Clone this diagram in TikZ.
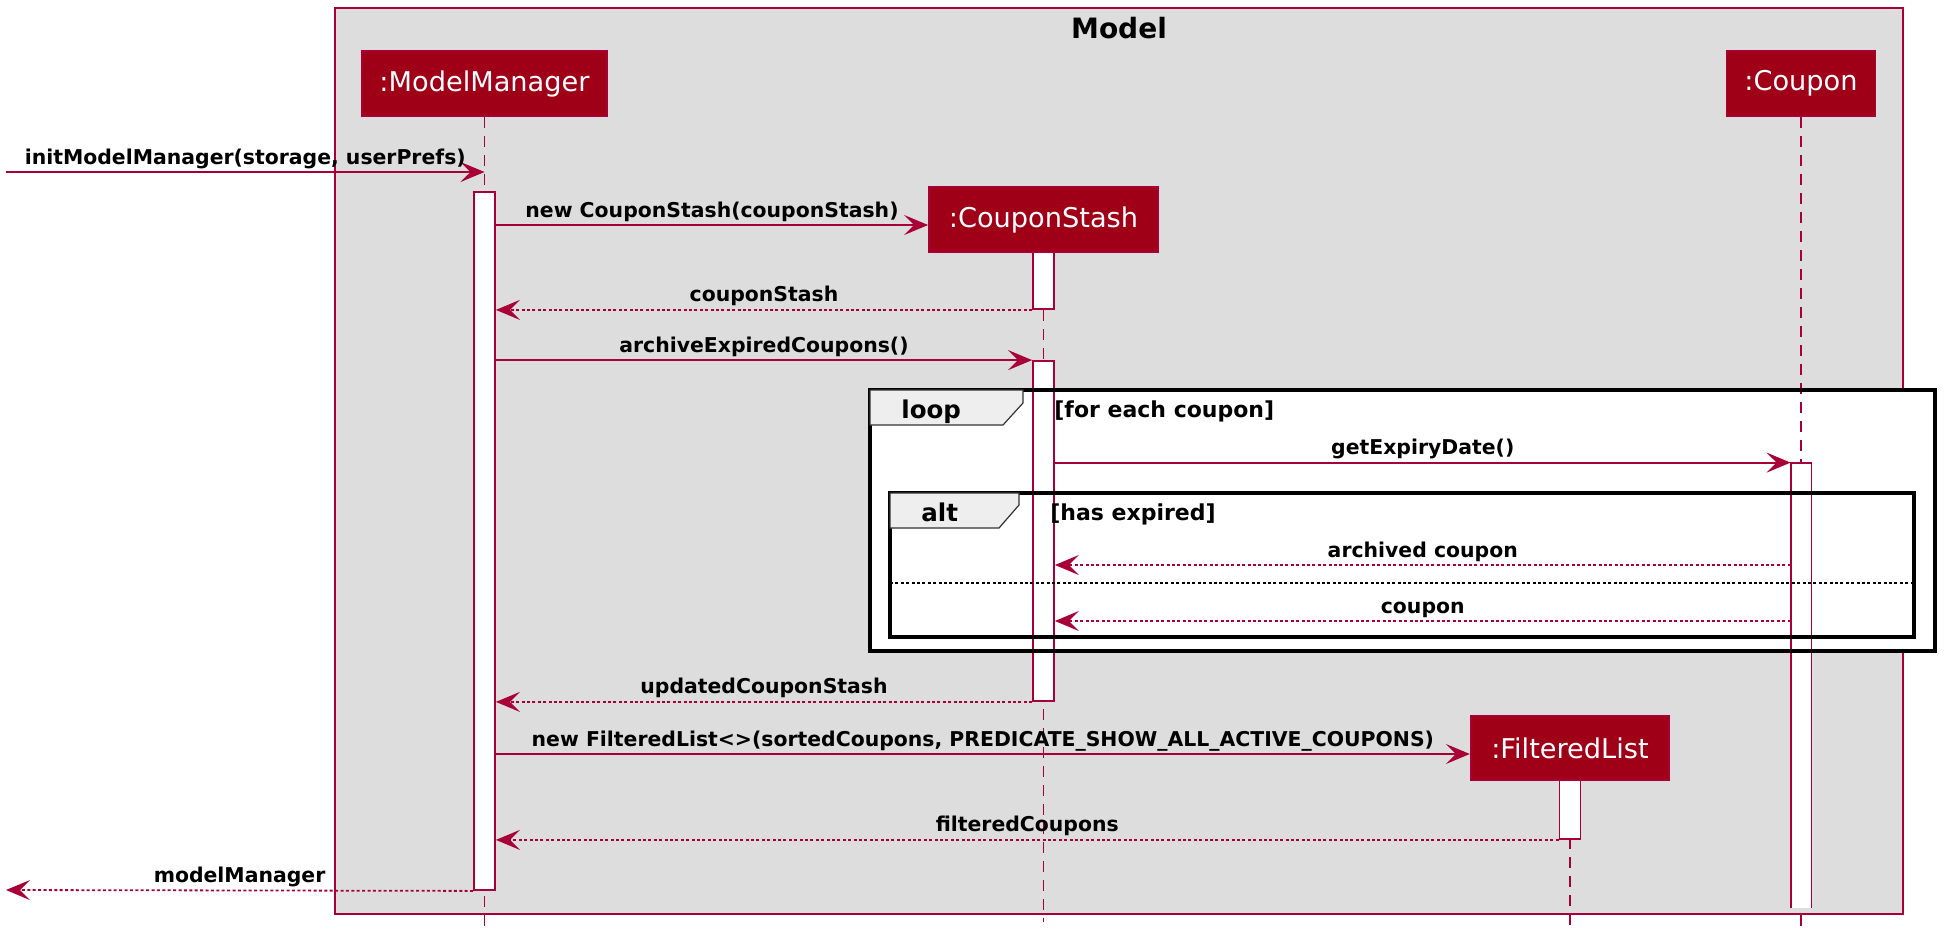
\documentclass[tikz,border=0pt]{standalone}
\usepackage{fontspec}
\setmainfont{DejaVu Sans}
\usetikzlibrary{arrows.meta}
\definecolor{umlred}{RGB}{168,0,54}
\definecolor{umlfill}{RGB}{160,0,23}
\definecolor{boxgray}{RGB}{221,221,221}
\definecolor{tabgray}{RGB}{238,238,238}
\tikzset{
  actor/.style={draw=umlred, fill=umlfill, line width=0.9pt, text=white, inner sep=0pt,
    minimum height=32.5pt, font=\fontsize{13.6}{16}\selectfont},
  bar/.style={draw=umlred, fill=white, line width=0.9pt, minimum width=10.5pt, inner sep=0pt},
  life/.style={umlred, line width=0.9pt, dash pattern=on 5.5pt off 4pt},
  msg/.style={umlred, line width=0.9pt, -{Stealth[length=12pt,width=10pt,inset=5pt]}},
  ret/.style={msg, dash pattern=on 1.5pt off 1.2pt},
  lbl/.style={midway, anchor=base, yshift=4pt, inner sep=0pt, text=black,
    font=\fontsize{10.2}{12}\selectfont\bfseries},
  frame/.style={draw=black, line width=1.6pt},
  tab/.style={draw=black!80, fill=tabgray, line width=0.6pt},
  kw/.style={anchor=base west, inner sep=0pt, font=\fontsize{12.25}{14}\selectfont\bfseries},
  guard/.style={anchor=base west, inner sep=0pt, font=\fontsize{11}{13}\selectfont\bfseries}
}
\begin{document}
\begin{tikzpicture}[x=0.5pt, y=-0.5pt]
  \useasboundingbox (0,0) rectangle (1954,948);
  % Model box
  \draw[draw=umlred, fill=boxgray, line width=0.9pt] (335,8) rectangle (1903,914);
  \node[anchor=base, inner sep=0pt, font=\fontsize{14}{16}\selectfont\bfseries] (model) at (1119,38) {Model};
  % white inside of the groups
  \fill[white] (870,390) rectangle (1935,651);

  % participants
  \node[actor, minimum width=122.5pt] (mm) at (484.5,83.5) {:ModelManager};
  \node[actor, minimum width=114.5pt] (cs) at (1043.5,219.5) {:CouponStash};
  \node[actor, minimum width=74.5pt] (cp) at (1801,83.5) {:Coupon};
  \node[actor, minimum width=99.25pt, minimum height=32pt] (fl) at (1570,748) {:FilteredList};

  % lifelines
  \coordinate (mmEnd) at (484.5,926);
  \coordinate (csEnd) at (1043.5,922);
  \coordinate (cpEnd) at (1801,926);
  \coordinate (flEnd) at (1570,926);
  \draw[life] (mm.south) -- (mmEnd);
  \draw[life] (cs.south) -- (csEnd);
  \draw[life] (cp.south) -- (cpEnd);
  \draw[life] (fl.south) -- (flEnd);

  % activations
  \node[bar, minimum height=349pt] (mmbar) at (484.5,541) {};
  \node[bar, minimum height=28.5pt] (csbarA) at (1043.5,280.5) {};
  \node[bar, minimum height=170pt] (csbarB) at (1043.5,531) {};
  \node[bar, minimum height=29.5pt] (flbar) at (1570,809.5) {};
  \node[fill=white, minimum width=10pt, minimum height=222.5pt, inner sep=0pt] (cpbar) at (1801,685.5) {};
  \draw[umlred, line width=0.9pt] (cpbar.south west) -- (cpbar.north west) -- (cpbar.north east) -- (cpbar.south east);

  % loop and alt
  \draw[frame] (870,390) rectangle (1935,651);
  \draw[tab] (870,390) -- (1023,390) -- (1023,403) -- (1003,425) -- (870,425) -- cycle;
  \node[kw] (loopkw) at (901,418) {loop};
  \node[guard] (loopgd) at (1054,417) {[for each coupon]};
  \draw[frame] (890,493) rectangle (1914,637);
  \draw[tab] (890,493) -- (1019,493) -- (1019,505) -- (999,528) -- (890,528) -- cycle;
  \node[kw] (altkw) at (921,521) {alt};
  \node[guard] (altgd) at (1050,520) {[has expired]};
  \draw[line width=0.9pt, dash pattern=on 1.5pt off 1.2pt] (890,583) -- (1914,583);

  % messages
  \coordinate (in) at (6,172);
  \coordinate (out) at (6,890);
  \draw[msg] (in) -- (mm.south |- in) node[lbl] {initModelManager(storage, userPrefs)};
  \draw[msg] (mmbar.east |- 0,225) -- (cs.west |- 0,225) node[lbl] {new CouponStash(couponStash)};
  \draw[ret] (csbarA.south west) -- (mmbar.east |- csbarA.south) node[lbl] {couponStash};
  \draw[msg] (mmbar.east |- csbarB.north) -- (csbarB.north west) node[lbl] {archiveExpiredCoupons()};
  \draw[msg] (csbarB.east |- cpbar.north) -- (cpbar.north west) node[lbl] {getExpiryDate()};
  \draw[ret] (cpbar.west |- 0,565) -- (csbarB.east |- 0,565) node[lbl] {archived coupon};
  \draw[ret] (cpbar.west |- 0,621) -- (csbarB.east |- 0,621) node[lbl] {coupon};
  \draw[ret] (csbarB.south west) -- (mmbar.east |- csbarB.south) node[lbl] {updatedCouponStash};
  \draw[msg] (mmbar.east |- 0,754) -- (fl.west |- 0,754) node[lbl] {new FilteredList<>(sortedCoupons, PREDICATE\_SHOW\_ALL\_ACTIVE\_COUPONS)};
  \draw[ret] (flbar.south west) -- (mmbar.east |- flbar.south) node[lbl] {filteredCoupons};
  \draw[ret] (mmbar.south west) -- (out) node[lbl] {modelManager};
\end{tikzpicture}
\end{document}
